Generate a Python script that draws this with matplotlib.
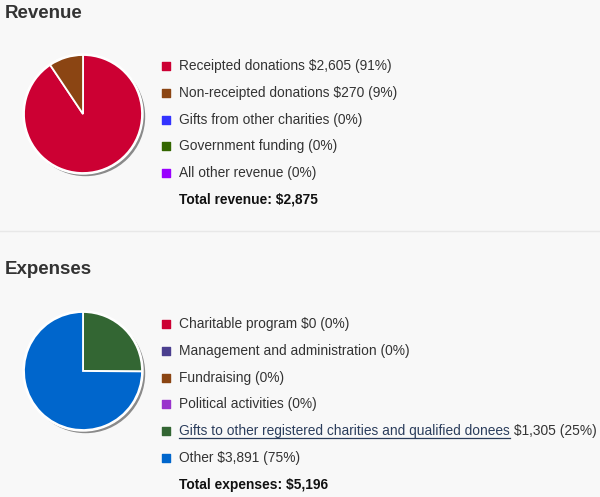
import matplotlib.pyplot as plt

plt.rcParams['font.family'] = ['Liberation Sans', 'DejaVu Sans']

# Revenue data
rev_labels = ["Receipted donations $2,605 (91%)", "Non-receipted donations $270 (9%)",
              "Gifts from other charities (0%)", "Government funding (0%)",
              "All other revenue (0%)"]
rev_values = [2605, 270, 0, 0, 0]
rev_colors = ['#cc0033', '#8b4513', '#3333ff', '#336600', '#9900ff']
rev_total = "Total revenue: $2,875"

# Expenses data
exp_labels = ["Charitable program $0 (0%)", "Management and administration (0%)",
              "Fundraising (0%)", "Political activities (0%)",
              "Gifts to other registered charities and qualified donees",
              "Other $3,891 (75%)"]
exp_values = [0, 0, 0, 0, 1305, 3891]
exp_colors = ['#cc0033', '#4b3f8f', '#8b4513', '#9933cc', '#336633', '#0066cc']
exp_total = "Total expenses: $5,196"
gifts_suffix = " $1,305 (25%)"

W, H = 600, 497
FS = 9.9
fig = plt.figure(figsize=(6, 4.97), dpi=100, facecolor='#f8f8f8')
ax = fig.add_axes([0, 0, 1, 1])
ax.set_facecolor('#f8f8f8')


def draw_pie(cx, cy, values, colors):
    vals = [v for v in values if v > 0]
    cols = [c for v, c in zip(values, colors) if v > 0]
    # shadow
    ax.add_patch(plt.Circle((cx + 2.5, H - cy - 2.5), 59, color='#8a8a8a', zorder=1))
    ax.add_patch(plt.Circle((cx, H - cy), 60, color='white', zorder=1.5))
    ax.pie(vals, colors=cols, startangle=90, counterclock=False, radius=59,
           center=(cx, H - cy), frame=True,
           wedgeprops=dict(edgecolor='white', linewidth=1.3, zorder=2))


def draw_legend(y0, labels, colors, total, step=26.8):
    texts = []
    for i, (lab, col) in enumerate(zip(labels, colors)):
        y = H - (y0 + i * step)
        ax.scatter([166], [y], marker='s', s=36, color=col, zorder=3)
        t = ax.text(179, y, lab, fontsize=FS, color='#333333', va='center', ha='left')
        texts.append(t)
    y = H - (y0 + len(labels) * step)
    ax.text(179, y, total, fontsize=FS, fontweight='bold', color='#111111',
            va='center', ha='left')
    return texts


ax.text(5, H - 13, "Revenue", fontsize=13.5, fontweight='bold', color='#333333',
        va='center', ha='left')
draw_pie(83, 114, rev_values, rev_colors)
draw_legend(66, rev_labels, rev_colors, rev_total)

ax.plot([0, W], [H - 231, H - 231], color='#e8e8e8', linewidth=1)

ax.text(5, H - 270, "Expenses", fontsize=13.5, fontweight='bold', color='#333333',
        va='center', ha='left')
draw_pie(83, 371, exp_values, exp_colors)
texts = draw_legend(324, exp_labels, exp_colors, exp_total)

ax.set_xlim(0, W)
ax.set_ylim(0, H)
ax.set_aspect('auto')
ax.axis('off')

# link-style label with amount after it
fig.canvas.draw()
gt = texts[4]
gt.set_color('#2b3d5c')
bb = gt.get_window_extent().transformed(ax.transData.inverted())
ax.plot([bb.x0, bb.x1], [bb.y0 + 0.5, bb.y0 + 0.5], color='#2b3d5c', linewidth=0.9)
ax.text(bb.x1, H - (324 + 4 * 26.8), gifts_suffix, fontsize=FS, color='#333333',
        va='center', ha='left')

ax.set_xlim(0, W)
ax.set_ylim(0, H)

fig.savefig('out.png', dpi=100, facecolor=fig.get_facecolor())
